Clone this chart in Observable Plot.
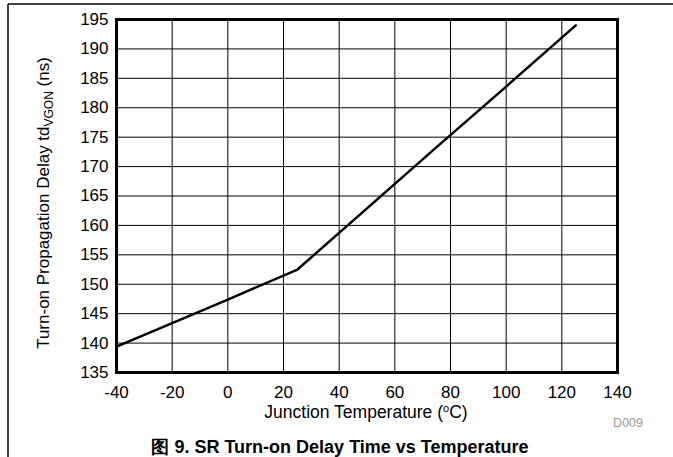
<!DOCTYPE html>
<html><head><meta charset="utf-8">
<script src="https://cdn.jsdelivr.net/npm/d3@7"></script>
<script src="https://cdn.jsdelivr.net/npm/@observablehq/plot@0.6"></script>
<style>body{margin:0;background:#fff} #chart{position:relative;width:673px;height:457px;}</style>
</head><body><div id="chart"></div>
<script>
const temps = [-40, 0, 25, 50, 75, 100, 125];
const delays = [139.4, 147.4, 152.5, 162.9, 173.3, 183.6, 194.0];
const xTicks = [-40, -20, 0, 20, 40, 60, 80, 100, 120, 140];
const yTicks = [135, 140, 145, 150, 155, 160, 165, 170, 175, 180, 185, 190, 195];
const xTitleParts = ["Junction Temperature (", "o", "C)"];
const yTitleParts = ["Turn-on Propagation Delay td", "VGON", " (ns)"];
const figTitle = "图 9. SR Turn-on Delay Time vs Temperature";
const figCode = "D009";

const data = temps.map((t, i) => ({t, d: delays[i]}));
const W = 673, H = 457;
const font = "'Liberation Sans', Arial, sans-serif";
const plot = Plot.plot({
  width: W, height: H,
  marginLeft: 116, marginRight: 56, marginTop: 19, marginBottom: 85,
  style: {fontFamily: font, fontSize: "17px", color: "#000", background: "#fff"},
  x: {domain: [-40, 140], ticks: xTicks, tickSize: 0, tickPadding: 13, label: null, tickFormat: d => String(d)},
  y: {domain: [135, 195], ticks: yTicks, tickSize: 0, tickPadding: 8, label: null, tickFormat: d => String(d)},
  marks: [
    Plot.gridX(xTicks, {stroke: "#000", strokeOpacity: 1, strokeWidth: 1}),
    Plot.gridY(yTicks, {stroke: "#000", strokeOpacity: 1, strokeWidth: 1}),
    Plot.line(data, {x: "t", y: "d", stroke: "#000", strokeWidth: 2.5}),
    Plot.frame({stroke: "#000", strokeWidth: 3})
  ]
});
const svg = d3.select(plot);
// page frame lines
svg.append("line").attr("x1", 8).attr("y1", 4).attr("x2", W).attr("y2", 4).attr("stroke", "#000").attr("stroke-width", 1.5);
svg.append("line").attr("x1", 8).attr("y1", 4).attr("x2", 8).attr("y2", H).attr("stroke", "#000").attr("stroke-width", 1.5);
// x title
const xt = svg.append("text").attr("x", 366).attr("y", 418).attr("text-anchor", "middle")
  .attr("font-family", font).attr("font-size", 17.5).attr("fill", "#000");
xt.append("tspan").text(xTitleParts[0]);
xt.append("tspan").attr("dy", -6).attr("font-size", 11).text(xTitleParts[1]);
xt.append("tspan").attr("dy", 6).text(xTitleParts[2]);
// y title
const yt = svg.append("text").attr("transform", "translate(49,203) rotate(-90)").attr("text-anchor", "middle")
  .attr("font-family", font).attr("font-size", 17).attr("fill", "#000");
yt.append("tspan").text(yTitleParts[0]);
yt.append("tspan").attr("dy", 4).attr("font-size", 12).text(yTitleParts[1]);
yt.append("tspan").attr("dy", -4).text(yTitleParts[2]);
// code
svg.append("text").attr("x", 643).attr("y", 427).attr("text-anchor", "end")
  .attr("font-family", font).attr("font-size", 12.5).attr("fill", "#999").text(figCode);
// figure title
svg.append("text").attr("x", 340).attr("y", 453).attr("text-anchor", "middle")
  .attr("font-family", font).attr("font-size", 18).attr("font-weight", "bold").attr("fill", "#000").text(figTitle);
document.getElementById("chart").appendChild(plot);
</script>
</body></html>
